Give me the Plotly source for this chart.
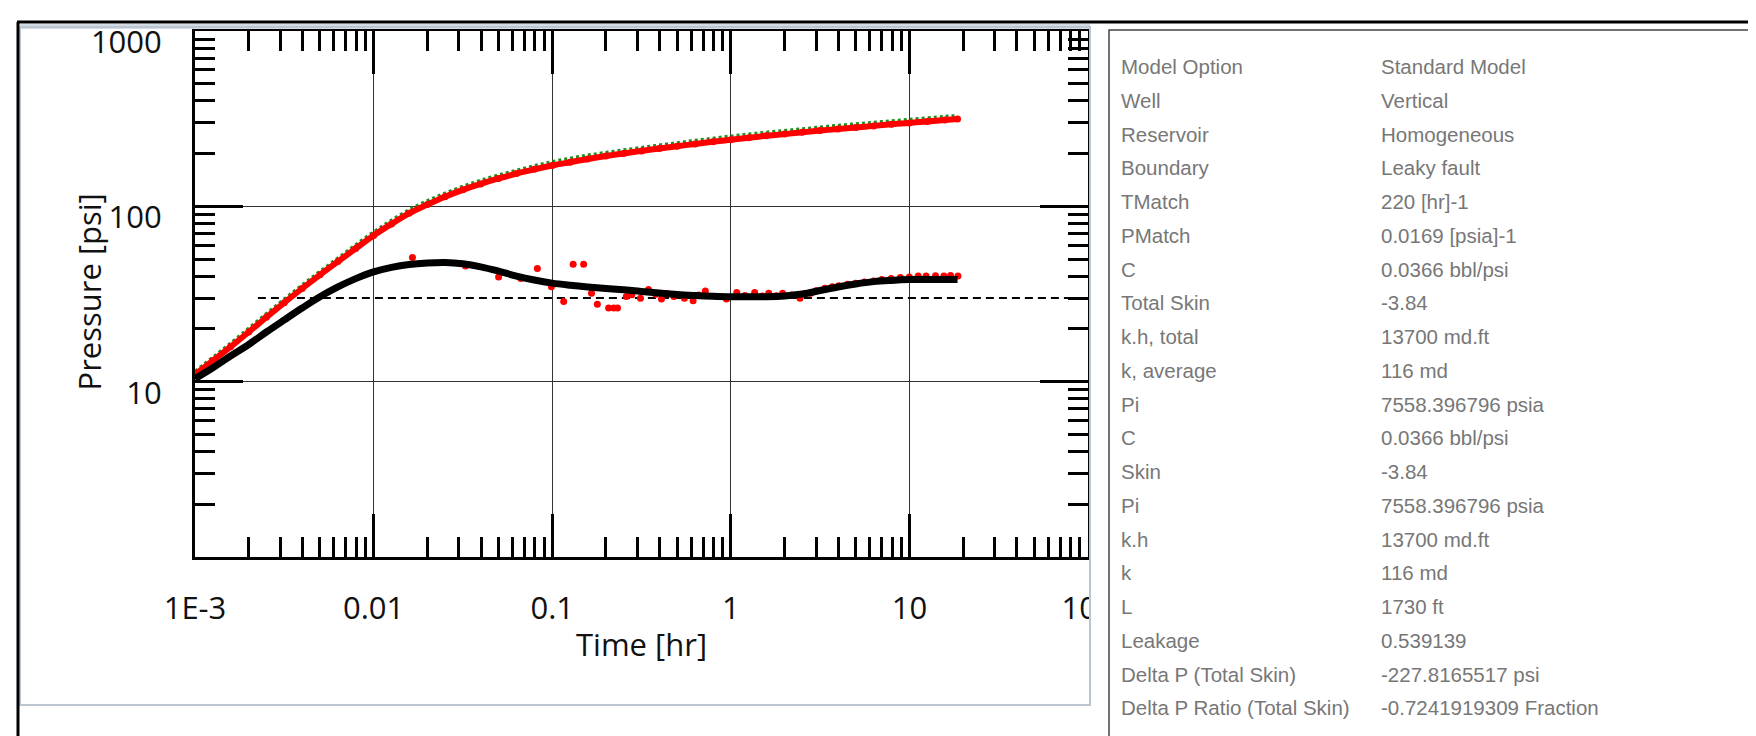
import plotly.graph_objects as go

# ---------------- data ----------------
# Pressure data (red dots)
t_press = [0.001, 0.00126, 0.00158, 0.002, 0.00251, 0.00316, 0.00398, 0.00501, 0.00631, 0.00794,
           0.01, 0.0126, 0.0158, 0.02, 0.0251, 0.0316, 0.0398, 0.0501, 0.0631, 0.0794,
           0.1, 0.126, 0.158, 0.2, 0.251, 0.316, 0.398, 0.501, 0.631, 0.794,
           1.0, 1.26, 1.58, 2.0, 2.51, 3.16, 3.98, 5.01, 6.31, 7.94,
           10.0, 12.6, 15.8, 18.6]
p_press = [11.0, 13.2, 15.8, 19.2, 23.3, 28.2, 34.0, 40.7, 48.4, 57.5,
           68.2, 79.4, 91.2, 102.3, 113.5, 124.2, 134.3, 144.2, 153.8, 162.6,
           171.0, 178.6, 186.2, 193.6, 200.4, 207.0, 213.8, 220.3, 227.0, 233.3,
           239.9, 246.0, 252.4, 258.2, 264.2, 270.4, 276.1, 281.8, 287.7, 293.8,
           299.2, 304.8, 310.5, 314.8]

# Pressure model (green dotted)
t_pmodel = [0.001, 0.00158, 0.00251, 0.00398, 0.00631, 0.01, 0.0158, 0.0251, 0.0398, 0.0631,
            0.1, 0.158, 0.251, 0.398, 0.631, 1.0, 1.58, 2.51, 3.98, 6.31, 10.0, 15.8, 18.6]
p_pmodel = [11.5, 16.6, 24.5, 35.7, 50.8, 71.6, 95.8, 119, 141, 161,
            180, 196, 210, 224, 238, 252, 265, 277, 290, 302, 314, 326, 330]

# Derivative model (black line)
t_dmodel = [0.001, 0.00126, 0.00158, 0.002, 0.00251, 0.00316, 0.00398, 0.00501, 0.00631, 0.00794,
            0.01, 0.0126, 0.0158, 0.02, 0.0251, 0.0316, 0.0398, 0.0501, 0.0631, 0.0794,
            0.1, 0.126, 0.158, 0.2, 0.251, 0.316, 0.398, 0.501, 0.631, 0.794,
            1.0, 1.26, 1.58, 2.0, 2.51, 3.16, 3.98, 5.01, 6.31, 7.94,
            10.0, 12.6, 15.8, 18.6]
p_dmodel = [10.4, 12.0, 14.0, 16.3, 19.2, 22.5, 26.3, 30.5, 34.7, 38.7,
            42.3, 44.9, 46.6, 47.5, 47.8, 47.0, 45.2, 42.7, 40.0, 38.0,
            36.5, 35.5, 34.7, 34.0, 33.4, 32.7, 32.0, 31.4, 31.0, 30.7,
            30.5, 30.5, 30.5, 30.8, 31.6, 33.1, 34.7, 36.1, 37.2, 37.8,
            38.2, 38.3, 38.3, 38.3]

# Derivative data (red dots)
t_deriv = [0.0165, 0.0327, 0.0501, 0.0667, 0.0826, 0.099, 0.116, 0.131, 0.150, 0.166,
           0.179, 0.207, 0.221, 0.232, 0.26, 0.279, 0.312, 0.346, 0.38, 0.409,
           0.44, 0.48, 0.55, 0.615, 0.66, 0.72, 0.83, 0.946, 1.08, 1.2,
           1.36, 1.5, 1.63, 1.8, 1.95, 2.2, 2.44, 2.6, 2.8, 3.0,
           3.36, 3.7, 4.02, 4.5, 5.0, 5.6, 6.3, 7.0, 7.9, 8.9,
           10.0, 11.2, 12.4, 14.0, 15.6, 17.0, 18.7]
p_deriv = [51.0, 45.7, 39.6, 38.8, 44.2, 34.8, 28.7, 46.7, 46.7, 31.9,
           27.6, 26.3, 26.3, 26.3, 30.6, 31.3, 29.9, 33.5, 31.5, 29.6,
           31.8, 30.6, 29.9, 28.9, 31.2, 32.9, 30.6, 29.6, 32.3, 31.0,
           32.3, 30.8, 31.9, 30.9, 31.9, 31.2, 29.9, 31.8, 31.9, 33.0,
           34.1, 34.8, 35.3, 36.0, 36.4, 37.0, 37.5, 38.3, 38.8, 39.3,
           39.6, 40.1, 40.0, 40.2, 40.0, 40.3, 40.0]

# Reference (dashed) line
t_ref = [0.00225, 100.0]
p_ref = [30.0, 30.0]

# Axis ticks
x_tickvals = [0.001, 0.01, 0.1, 1, 10, 100]
x_ticktext = ["1E-3", "0.01", "0.1", "1", "10", "100"]
x_minor = [m * d for d in [0.001, 0.01, 0.1, 1, 10] for m in range(2, 10)]
y_tickvals = [10, 100, 1000]
y_ticktext = ["10", "100", "1000"]
y_minor = [m * d for d in [1, 10, 100] for m in range(2, 10)]

# Info panel
panel_labels = ["Model Option", "Well", "Reservoir", "Boundary", "TMatch", "PMatch", "C",
                "Total Skin", "k.h, total", "k, average", "Pi", "C", "Skin", "Pi", "k.h", "k",
                "L", "Leakage", "Delta P (Total Skin)", "Delta P Ratio (Total Skin)"]
panel_values = ["Standard Model", "Vertical", "Homogeneous", "Leaky fault", "220 [hr]-1",
                "0.0169 [psia]-1", "0.0366 bbl/psi", "-3.84", "13700 md.ft", "116 md",
                "7558.396796 psia", "0.0366 bbl/psi", "-3.84", "7558.396796 psia", "13700 md.ft",
                "116 md", "1730 ft", "0.539139", "-227.8165517 psi", "-0.7241919309 Fraction"]

# ---------------- figure ----------------
W, H = 1756, 736
X0, X1, Y0, Y1 = 187, 1080, 16, 549   # plot area in pixels


def px(x):
    return (x - X0) / (X1 - X0)


def py(y):
    return (Y1 - y) / (Y1 - Y0)


fig = go.Figure()

fig.add_trace(go.Scatter(x=t_ref, y=p_ref, mode="lines",
                         line=dict(color="black", width=2, dash="8px,5px"), hoverinfo="skip"))
fig.add_trace(go.Scatter(x=t_pmodel, y=p_pmodel, mode="lines", line_shape="spline",
                         line=dict(color="#1f8f1f", width=3, dash="dot")))
fig.add_trace(go.Scatter(x=t_press, y=p_press, mode="lines+markers", line_shape="spline",
                         line=dict(color="#ff0000", width=6),
                         marker=dict(color="#ff0000", size=7)))
fig.add_trace(go.Scatter(x=t_deriv, y=p_deriv, mode="markers",
                         marker=dict(color="#ff0000", size=7)))
fig.add_trace(go.Scatter(x=t_dmodel, y=p_dmodel, mode="lines", line_shape="spline",
                         line=dict(color="black", width=7)))

tickfont = dict(family="Open Sans", size=31, color="#111111")

fig.update_xaxes(type="log", range=[-3, 2], tickmode="array", tickvals=x_tickvals,
                 ticktext=x_ticktext, ticks="inside", ticklen=43, tickwidth=2.5,
                 tickcolor="black", showline=True, linewidth=3, linecolor="black",
                 mirror="allticks", showgrid=True, gridcolor="#333333", gridwidth=1.2,
                 zeroline=False, tickfont=tickfont, ticklabelstandoff=22,
                 minor=dict(tickmode="array", tickvals=x_minor, ticks="inside", ticklen=20,
                            tickwidth=3, tickcolor="black", showgrid=False))
fig.update_yaxes(type="log", range=[0, 3.0001], tickmode="array", tickvals=y_tickvals,
                 ticktext=y_ticktext, ticks="inside", ticklen=48, tickwidth=2.5,
                 tickcolor="black", showline=True, linewidth=3, linecolor="black",
                 mirror="allticks", showgrid=True, gridcolor="#333333", gridwidth=1.2,
                 zeroline=False, tickfont=tickfont, ticklabelstandoff=24, ticklabelshift=11,
                 minor=dict(tickmode="array", tickvals=y_minor, ticks="inside", ticklen=20,
                            tickwidth=3, tickcolor="black", showgrid=False))

shapes = [
    # window frame (light gray-blue)
    dict(type="rect", xref="paper", yref="paper", x0=px(12), x1=px(1082), y0=py(9), y1=py(14),
         fillcolor="#d3dbe4", line=dict(width=0), layer="above"),
    dict(type="rect", xref="paper", yref="paper", x0=px(12), x1=px(1082), y0=py(12), y1=py(699),
         fillcolor="rgba(0,0,0,0)", line=dict(color="#bcc6d0", width=2), layer="above"),
    # white strip between frame and panel (clips the last tick label)
    dict(type="rect", xref="paper", yref="paper", x0=px(1083), x1=px(1101), y0=py(540), y1=py(700),
         fillcolor="white", line=dict(width=0), layer="above"),
    # outer black lines
    dict(type="line", xref="paper", yref="paper", x0=px(9), x1=px(1760), y0=py(7), y1=py(7),
         line=dict(color="black", width=3), layer="above"),
    dict(type="line", xref="paper", yref="paper", x0=px(10), x1=px(10), y0=py(7), y1=py(740),
         line=dict(color="black", width=3), layer="above"),
    # info panel
    dict(type="rect", xref="paper", yref="paper", x0=px(1101), x1=px(1770), y0=py(15), y1=py(733),
         fillcolor="white", line=dict(color="#444444", width=1.5), layer="above"),
]

annotations = [
    dict(text="Time [hr]", xref="paper", yref="paper", x=px(633), y=py(637),
         xanchor="center", yanchor="middle", showarrow=False,
         font=dict(family="Open Sans", size=31, color="#111111")),
    dict(text="Pressure [psi]", xref="paper", yref="paper", x=px(81), y=py(281),
         xanchor="center", yanchor="middle", showarrow=False, textangle=-90,
         font=dict(family="Open Sans", size=31, color="#111111")),
]
panel_font = dict(family="Liberation Sans", size=20.5, color="#777777")
for i, (lab, val) in enumerate(zip(panel_labels, panel_values)):
    yy = py(52 + 34.2 * i)
    annotations.append(dict(text=lab, xref="paper", yref="paper", x=px(1111), y=yy,
                            xanchor="left", yanchor="middle", showarrow=False, font=panel_font))
    annotations.append(dict(text=val, xref="paper", yref="paper", x=px(1371), y=yy,
                            xanchor="left", yanchor="middle", showarrow=False, font=panel_font))

fig.update_layout(width=W, height=H, margin=dict(l=X0, r=W - X1, t=Y0, b=H - Y1),
                  paper_bgcolor="white", plot_bgcolor="white", showlegend=False,
                  shapes=shapes, annotations=annotations)

fig.write_html("out.html")
